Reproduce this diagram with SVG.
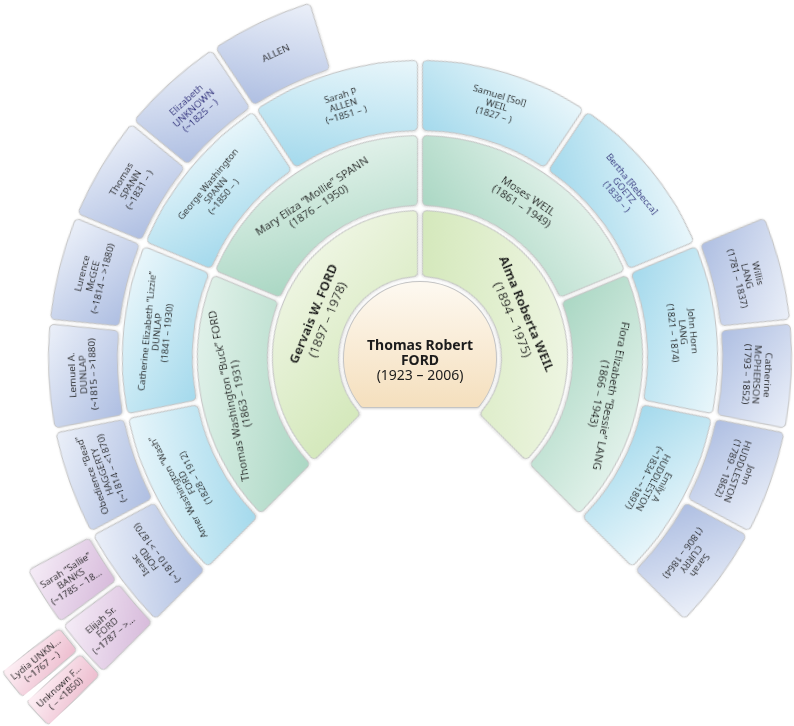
<svg xmlns="http://www.w3.org/2000/svg" xmlns:xlink="http://www.w3.org/1999/xlink" width="794" height="726" viewBox="0 0 794 726">
<style>
text { font-family: "Noto Sans", "Open Sans", "DejaVu Sans", sans-serif; fill: #1c1c1c; text-anchor: middle; }
.t0 { font-size: 14px; }
.t1 { font-size: 13px; }
.t2 { font-size: 11px; }
.t3 { font-size: 9.5px; }
.t4 { font-size: 9.8px; }
.b { font-weight: bold; }
.blue { fill: #2e2e7e; }
.bd { fill: #c4c4c4; stroke: #c4c4c4; stroke-width: 10; stroke-linejoin: round; }
.f { stroke-width: 8; stroke-linejoin: round; }
.node { filter: url(#sh); }
</style>
<defs>
<filter id="sh" x="-15%" y="-15%" width="130%" height="130%">
<feDropShadow dx="0" dy="0.8" stdDeviation="1" flood-color="#000" flood-opacity="0.18"/>
</filter>
<linearGradient id="g0" x1="0" y1="0" x2="0" y2="1"><stop offset="0" stop-color="#fdf8ef"/><stop offset="1" stop-color="#f5e0bf"/></linearGradient>
<linearGradient id="g1" x1="1" y1="0" x2="0" y2="1"><stop offset="0" stop-color="#f3f8ea"/><stop offset="1" stop-color="#d2e7b8"/></linearGradient>
<linearGradient id="g2" x1="1" y1="0" x2="0" y2="1"><stop offset="0" stop-color="#e9f5ef"/><stop offset="1" stop-color="#a8d6c2"/></linearGradient>
<linearGradient id="g3" x1="1" y1="0" x2="0" y2="1"><stop offset="0" stop-color="#ebf7fb"/><stop offset="1" stop-color="#a3d9ec"/></linearGradient>
<linearGradient id="g4" x1="1" y1="0" x2="0" y2="1"><stop offset="0" stop-color="#e9eef8"/><stop offset="1" stop-color="#afbfe2"/></linearGradient>
<linearGradient id="g5" x1="1" y1="0" x2="0" y2="1"><stop offset="0" stop-color="#f3e9f5"/><stop offset="1" stop-color="#d8bcdc"/></linearGradient>
<linearGradient id="g6" x1="1" y1="0" x2="0" y2="1"><stop offset="0" stop-color="#fcecf2"/><stop offset="1" stop-color="#eec0d1"/></linearGradient>
<path id="s0" d="M -56.2 45 A 72 72 0 1 1 56.2 45 Z"/>
<path id="s1" d="M -129.28 -61.13 A 143 143 0 0 1 129.28 -61.13 L 76.51 -39.27 A 86 86 0 0 0 -76.51 -39.27 Z"/>
<path id="s2" d="M -115.23 -185.06 A 218 218 0 0 1 115.23 -185.06 L 81.32 -134.30 A 157 157 0 0 0 -81.32 -134.30 Z"/>
<path id="s3" d="M -78.33 -282.34 A 293 293 0 0 1 78.33 -282.34 L 60.62 -223.94 A 232 232 0 0 0 -60.62 -223.94 Z"/>
<path id="s4" d="M -46.92 -363.99 A 367 367 0 0 1 46.92 -363.99 L 38.11 -304.63 A 307 307 0 0 0 -38.11 -304.63 Z"/>
<path id="s5" d="M -25.46 -440.26 A 441 441 0 0 1 25.46 -440.26 L 21.04 -380.42 A 381 381 0 0 0 -21.04 -380.42 Z"/>
<path id="s6" d="M -12.07 -517.86 A 518 518 0 0 1 12.07 -517.86 L 9.75 -454.90 A 455 455 0 0 0 -9.75 -454.90 Z"/>
</defs>
<rect width="794" height="726" fill="#ffffff"/>

<g id="n-thomas-robert" class="node" transform="translate(420 358)">
<use href="#s0" class="bd"/><use href="#s0" class="f" fill="url(#g0)" stroke="url(#g0)"/>
<text class="t0"><tspan x="0" y="-8.5" class="b">Thomas Robert</tspan><tspan x="0" y="6.5" class="b">FORD</tspan><tspan x="0" y="21.5">(1923 – 2006)</tspan></text>
</g>

<g id="n-gervais" class="node" transform="translate(420 358) rotate(-67.5)">
<use href="#s1" class="bd"/><use href="#s1" class="f" fill="url(#g1)" stroke="url(#g1)"/>
<text class="t1"><tspan x="0" y="-111" class="b">Gervais W. FORD</tspan><tspan x="0" y="-96">(1897 – 1978)</tspan></text>
</g>
<g id="n-alma" class="node" transform="translate(420 358) rotate(67.5)">
<use href="#s1" class="bd"/><use href="#s1" class="f" fill="url(#g1)" stroke="url(#g1)"/>
<text class="t1"><tspan x="0" y="-111" class="b">Alma Roberta WEIL</tspan><tspan x="0" y="-96">(1894 – 1975)</tspan></text>
</g>

<g id="n-thomas-washington" class="node" transform="translate(420 358) rotate(-101.25)">
<use href="#s2" class="bd"/><use href="#s2" class="f" fill="url(#g2)" stroke="url(#g2)"/>
<text class="t2"><tspan x="0" y="-191.4">Thomas Washington “Buck” FORD</tspan><tspan x="0" y="-178.9">(1863 – 1931)</tspan></text>
</g>
<g id="n-mary-eliza" class="node" transform="translate(420 358) rotate(-33.75)">
<use href="#s2" class="bd"/><use href="#s2" class="f" fill="url(#g2)" stroke="url(#g2)"/>
<text class="t2"><tspan x="0" y="-191.4">Mary Eliza “Mollie” SPANN</tspan><tspan x="0" y="-178.9">(1876 – 1950)</tspan></text>
</g>
<g id="n-moses" class="node" transform="translate(420 358) rotate(33.75)">
<use href="#s2" class="bd"/><use href="#s2" class="f" fill="url(#g2)" stroke="url(#g2)"/>
<text class="t2"><tspan x="0" y="-191.4">Moses WEIL</tspan><tspan x="0" y="-178.9">(1861 – 1949)</tspan></text>
</g>
<g id="n-flora" class="node" transform="translate(420 358) rotate(101.25)">
<use href="#s2" class="bd"/><use href="#s2" class="f" fill="url(#g2)" stroke="url(#g2)"/>
<text class="t2"><tspan x="0" y="-191.4">Flora Elizabeth “Bessie” LANG</tspan><tspan x="0" y="-178.9">(1866 – 1943)</tspan></text>
</g>

<g id="n-amer" class="node" transform="translate(420 358) rotate(-118.125)">
<use href="#s3" class="bd"/><use href="#s3" class="f" fill="url(#g3)" stroke="url(#g3)"/>
<text class="t3"><tspan x="0" y="-270.7">Amer Washington “Wash”</tspan><tspan x="0" y="-260.7">FORD</tspan><tspan x="0" y="-250.7">(1828 – 1912)</tspan></text>
</g>
<g id="n-catherine-dunlap" class="node" transform="translate(420 358) rotate(-84.375)">
<use href="#s3" class="bd"/><use href="#s3" class="f" fill="url(#g3)" stroke="url(#g3)"/>
<text class="t3"><tspan x="0" y="-270.7">Catherine Elizabeth “Lizzie”</tspan><tspan x="0" y="-260.7">DUNLAP</tspan><tspan x="0" y="-250.7">(1841 – 1930)</tspan></text>
</g>
<g id="n-george" class="node" transform="translate(420 358) rotate(-50.625)">
<use href="#s3" class="bd"/><use href="#s3" class="f" fill="url(#g3)" stroke="url(#g3)"/>
<text class="t3"><tspan x="0" y="-270.7">George Washington</tspan><tspan x="0" y="-260.7">SPANN</tspan><tspan x="0" y="-250.7">(~1850 – )</tspan></text>
</g>
<g id="n-sarah-p" class="node" transform="translate(420 358) rotate(-16.875)">
<use href="#s3" class="bd"/><use href="#s3" class="f" fill="url(#g3)" stroke="url(#g3)"/>
<text class="t3"><tspan x="0" y="-270.7">Sarah P</tspan><tspan x="0" y="-260.7">ALLEN</tspan><tspan x="0" y="-250.7">(~1851 – )</tspan></text>
</g>
<g id="n-samuel" class="node" transform="translate(420 358) rotate(16.875)">
<use href="#s3" class="bd"/><use href="#s3" class="f" fill="url(#g3)" stroke="url(#g3)"/>
<text class="t3"><tspan x="0" y="-270.7">Samuel [Sol]</tspan><tspan x="0" y="-260.7">WEIL</tspan><tspan x="0" y="-250.7">(1827 – )</tspan></text>
</g>
<g id="n-bertha" class="node" transform="translate(420 358) rotate(50.625)">
<use href="#s3" class="bd"/><use href="#s3" class="f" fill="url(#g3)" stroke="url(#g3)"/>
<text class="t3 blue"><tspan x="0" y="-270.7">Bertha [Rebecca]</tspan><tspan x="0" y="-260.7">GOETZ</tspan><tspan x="0" y="-250.7">(1839 – )</tspan></text>
</g>
<g id="n-john-horn" class="node" transform="translate(420 358) rotate(84.375)">
<use href="#s3" class="bd"/><use href="#s3" class="f" fill="url(#g3)" stroke="url(#g3)"/>
<text class="t3"><tspan x="0" y="-270.7">John Horn</tspan><tspan x="0" y="-260.7">LANG</tspan><tspan x="0" y="-250.7">(1821 – 1874)</tspan></text>
</g>
<g id="n-emily" class="node" transform="translate(420 358) rotate(118.125)">
<use href="#s3" class="bd"/><use href="#s3" class="f" fill="url(#g3)" stroke="url(#g3)"/>
<text class="t3"><tspan x="0" y="-270.7">Emily A</tspan><tspan x="0" y="-260.7">HUDDLESTON</tspan><tspan x="0" y="-250.7">(~1834 – ~1897)</tspan></text>
</g>

<g id="n-isaac" class="node" transform="translate(420 358) rotate(-126.5625)">
<use href="#s4" class="bd"/><use href="#s4" class="f" fill="url(#g4)" stroke="url(#g4)"/>
<text class="t4"><tspan x="0" y="-345">Isaac</tspan><tspan x="0" y="-334.5">FORD</tspan><tspan x="0" y="-324">(~1810 – &gt;1870)</tspan></text>
</g>
<g id="n-obedience" class="node" transform="translate(420 358) rotate(-109.6875)">
<use href="#s4" class="bd"/><use href="#s4" class="f" fill="url(#g4)" stroke="url(#g4)"/>
<text class="t4"><tspan x="0" y="-345">Obedience “Bead”</tspan><tspan x="0" y="-334.5">HAGGERTY</tspan><tspan x="0" y="-324">(~1814 – &lt;1870)</tspan></text>
</g>
<g id="n-lemuel" class="node" transform="translate(420 358) rotate(-92.8125)">
<use href="#s4" class="bd"/><use href="#s4" class="f" fill="url(#g4)" stroke="url(#g4)"/>
<text class="t4"><tspan x="0" y="-345">Lemuel A.</tspan><tspan x="0" y="-334.5">DUNLAP</tspan><tspan x="0" y="-324">(~1815 – &gt;1880)</tspan></text>
</g>
<g id="n-lurence" class="node" transform="translate(420 358) rotate(-75.9375)">
<use href="#s4" class="bd"/><use href="#s4" class="f" fill="url(#g4)" stroke="url(#g4)"/>
<text class="t4"><tspan x="0" y="-345">Lurence</tspan><tspan x="0" y="-334.5">McGEE</tspan><tspan x="0" y="-324">(~1814 – &gt;1880)</tspan></text>
</g>
<g id="n-thomas-spann" class="node" transform="translate(420 358) rotate(-59.0625)">
<use href="#s4" class="bd"/><use href="#s4" class="f" fill="url(#g4)" stroke="url(#g4)"/>
<text class="t4"><tspan x="0" y="-345">Thomas</tspan><tspan x="0" y="-334.5">SPANN</tspan><tspan x="0" y="-324">(~1831 – )</tspan></text>
</g>
<g id="n-elizabeth" class="node" transform="translate(420 358) rotate(-42.1875)">
<use href="#s4" class="bd"/><use href="#s4" class="f" fill="url(#g4)" stroke="url(#g4)"/>
<text class="t4 blue"><tspan x="0" y="-345">Elizabeth</tspan><tspan x="0" y="-334.5">UNKNOWN</tspan><tspan x="0" y="-324">(~1825 – )</tspan></text>
</g>
<g id="n-allen" class="node" transform="translate(420 358) rotate(-25.3125)">
<use href="#s4" class="bd"/><use href="#s4" class="f" fill="url(#g4)" stroke="url(#g4)"/>
<text class="t4"><tspan x="0" y="-334.5">ALLEN</tspan></text>
</g>
<g id="n-willis" class="node" transform="translate(420 358) rotate(75.9375)">
<use href="#s4" class="bd"/><use href="#s4" class="f" fill="url(#g4)" stroke="url(#g4)"/>
<text class="t4"><tspan x="0" y="-345">Willis</tspan><tspan x="0" y="-334.5">LANG</tspan><tspan x="0" y="-324">(1781 – 1837)</tspan></text>
</g>
<g id="n-catherine-mcpherson" class="node" transform="translate(420 358) rotate(92.8125)">
<use href="#s4" class="bd"/><use href="#s4" class="f" fill="url(#g4)" stroke="url(#g4)"/>
<text class="t4"><tspan x="0" y="-345">Catherine</tspan><tspan x="0" y="-334.5">McPHERSON</tspan><tspan x="0" y="-324">(1793 – 1852)</tspan></text>
</g>
<g id="n-john-huddleston" class="node" transform="translate(420 358) rotate(109.6875)">
<use href="#s4" class="bd"/><use href="#s4" class="f" fill="url(#g4)" stroke="url(#g4)"/>
<text class="t4"><tspan x="0" y="-345">John</tspan><tspan x="0" y="-334.5">HUDDLESTON</tspan><tspan x="0" y="-324">(1789 – 1862)</tspan></text>
</g>
<g id="n-sarah-curry" class="node" transform="translate(420 358) rotate(126.5625)">
<use href="#s4" class="bd"/><use href="#s4" class="f" fill="url(#g4)" stroke="url(#g4)"/>
<text class="t4"><tspan x="0" y="-345">Sarah</tspan><tspan x="0" y="-334.5">CURRY</tspan><tspan x="0" y="-324">(1806 – 1864)</tspan></text>
</g>

<g id="n-elijah" class="node" transform="translate(420 358) rotate(-130.78125)">
<use href="#s5" class="bd"/><use href="#s5" class="f" fill="url(#g5)" stroke="url(#g5)"/>
<text class="t3" transform="translate(0 -413) rotate(90)"><tspan x="0" y="-6.7">Elijah Sr.</tspan><tspan x="0" y="3.3">FORD</tspan><tspan x="0" y="13.3">(~1787 – &gt;...</tspan></text>
</g>
<g id="n-sarah-banks" class="node" transform="translate(420 358) rotate(-122.34375)">
<use href="#s5" class="bd"/><use href="#s5" class="f" fill="url(#g5)" stroke="url(#g5)"/>
<text class="t3" transform="translate(0 -413) rotate(90)"><tspan x="0" y="-6.7">Sarah “Sallie”</tspan><tspan x="0" y="3.3">BANKS</tspan><tspan x="0" y="13.3">(~1785 – 18...</tspan></text>
</g>

<g id="n-unknown-f" class="node" transform="translate(420 358) rotate(-132.890625)">
<use href="#s6" class="bd"/><use href="#s6" class="f" fill="url(#g6)" stroke="url(#g6)"/>
<text class="t3" transform="translate(0 -488) rotate(90)"><tspan x="0" y="-1.9">Unknown F...</tspan><tspan x="0" y="8.1">( – &lt;1850)</tspan></text>
</g>
<g id="n-lydia" class="node" transform="translate(420 358) rotate(-128.671875)">
<use href="#s6" class="bd"/><use href="#s6" class="f" fill="url(#g6)" stroke="url(#g6)"/>
<text class="t3" transform="translate(0 -488) rotate(90)"><tspan x="0" y="-1.9">Lydia UNKN...</tspan><tspan x="0" y="8.1">(~1767 – )</tspan></text>
</g>

<g id="connectors"/>
</svg>
